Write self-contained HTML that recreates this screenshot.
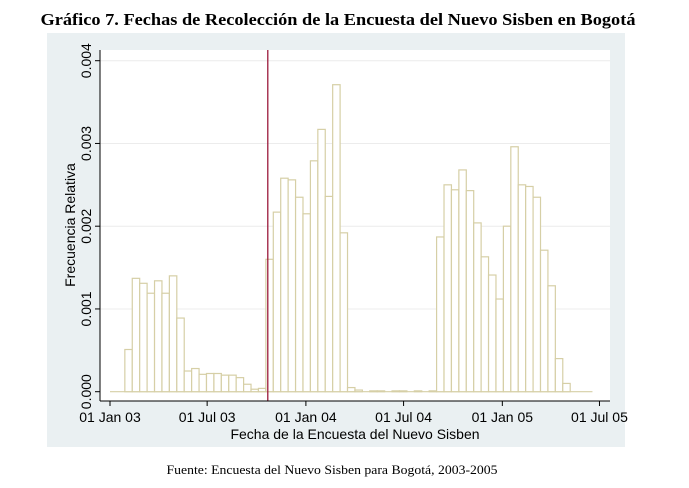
<!DOCTYPE html>
<html><head><meta charset="utf-8"><style>
body{margin:0;background:#fff;width:689px;height:488px;overflow:hidden}
svg{display:block}
</style></head><body>
<svg id="chart" width="689" height="488">
<text x="338" y="25" text-anchor="middle" font-family="Liberation Serif, serif" font-weight="bold" font-size="17" textLength="595" lengthAdjust="spacingAndGlyphs">Gráfico 7. Fechas de Recolección de la Encuesta del Nuevo Sisben en Bogotá</text>
<rect x="47" y="33" width="578" height="414" fill="#eaf0f2"/>
<rect x="100" y="50" width="510" height="351" fill="#fff"/>
<g id="grid"></g><g id="bars"></g><g id="axes"></g>
<text x="75" y="225" transform="rotate(-90 75 225)" text-anchor="middle" font-family="Liberation Sans, sans-serif" font-size="14">Frecuencia Relativa</text>
<text x="355" y="439" text-anchor="middle" font-family="Liberation Sans, sans-serif" font-size="14">Fecha de la Encuesta del Nuevo Sisben</text>
<text x="332" y="474" text-anchor="middle" font-family="Liberation Serif, serif" font-size="13" textLength="331" lengthAdjust="spacingAndGlyphs">Fuente: Encuesta del Nuevo Sisben para Bogotá, 2003-2005</text>
</svg>
<script>
const binValues=[0,0,0.00051,0.00137,0.00131,0.00119,0.00134,0.00119,0.00140,0.00089,0.00025,0.00028,0.00021,0.00022,0.00022,0.0002,0.0002,0.00017,0.00009,0.00003,0.00004,0.0016,0.00217,0.00258,0.00256,0.00235,0.00215,0.00279,0.00317,0.00236,0.00371,0.00192,0.00005,0.00002,0,0.00001,0.00001,0,0.00001,0.00001,0,0.00001,0,0.00001,0.00187,0.0025,0.00244,0.00268,0.00243,0.00204,0.00163,0.00141,0.00112,0.002,0.00296,0.0025,0.00248,0.00235,0.00171,0.00128,0.0004,0.0001,0,0,0];
const yTicks=[0,0.001,0.002,0.003,0.004];
const yTickLabels=["0.000","0.001","0.002","0.003","0.004"];
const xTickLabels=["01 Jan 03","01 Jul 03","01 Jan 04","01 Jul 04","01 Jan 05","01 Jul 05"];
const xTickDays=[0,181,365,547,731,912];
const markerDay=294;
const NS="http://www.w3.org/2000/svg";
const binDays=13.83;
function y(v){return 391.7-v*82.75e3;}
function xd(d){return 110+d*0.5367;}
function xb(i){return xd(i*binDays);}
function mk(t,a,p){const e=document.createElementNS(NS,t);for(const k in a)e.setAttribute(k,a[k]);p.appendChild(e);return e;}
const grid=document.getElementById('grid'),bars=document.getElementById('bars'),axes=document.getElementById('axes');
yTicks.forEach((v,i)=>{
 if(i>0){const g=mk('line',{x1:100,x2:610,y1:y(v),y2:y(v),stroke:'#ececec','stroke-width':1},grid);
 
 }
 const t=mk('line',{x1:95,x2:100,y1:y(v),y2:y(v),stroke:'#000'},axes);
 
 
 const l=mk('text',{x:0,y:0,transform:`translate(91 ${y(v)}) rotate(-90)`,'text-anchor':'middle','font-family':'Liberation Sans, sans-serif','font-size':14},axes);
 l.textContent=yTickLabels[i];
 
 
});
const base=mk('line',{x1:xb(0),x2:xb(binValues.length),y1:y(0),y2:y(0),stroke:'#d6cfa6','stroke-width':1.2},bars);


binValues.forEach((v,i)=>{
 if(v<=0)return;
 const r=mk('rect',{x:xb(i),y:y(v),width:xb(i+1)-xb(i),height:y(0)-y(v),fill:'#fff',stroke:'#d6cfa6','stroke-width':1.2},bars);
 
 
});
const ml=mk('line',{x1:xd(markerDay),x2:xd(markerDay),y1:50,y2:401,stroke:'#9b1a3c','stroke-width':1.3},bars);


const ya=mk('line',{x1:100,x2:100,y1:50,y2:401,stroke:'#000'},axes);


const xa=mk('line',{x1:100,x2:610,y1:401,y2:401,stroke:'#000'},axes);


xTickDays.forEach((d,i)=>{
 const t=mk('line',{x1:xd(d),x2:xd(d),y1:401,y2:406,stroke:'#000'},axes);
 
 
 const l=mk('text',{x:xd(d),y:422,'text-anchor':'middle','font-family':'Liberation Sans, sans-serif','font-size':14},axes);
 l.textContent=xTickLabels[i];
 
 
});
</script>
</body></html>
